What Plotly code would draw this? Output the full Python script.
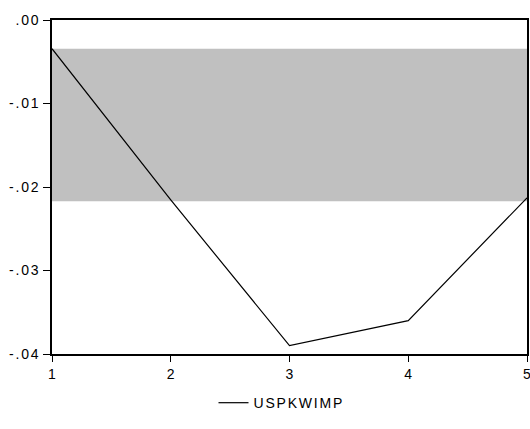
import plotly.graph_objects as go

periods = [1, 2, 3, 4, 5]
uspkwimp = [-0.00344, -0.02155, -0.0390, -0.0360, -0.0213]
band_upper = -0.00344
band_lower = -0.0217
y_ticks = [0.0, -0.01, -0.02, -0.03, -0.04]
y_tick_labels = [".00", "-.01", "-.02", "-.03", "-.04"]
x_ticks = [1, 2, 3, 4, 5]

fig = go.Figure()
fig.add_trace(go.Scatter(x=periods, y=uspkwimp, mode="lines", name="USPKWIMP",
                         line=dict(color="black", width=1.2)))

fig.add_shape(type="rect", xref="paper", yref="y", x0=0, x1=1,
              y0=band_lower, y1=band_upper, fillcolor="#C0C0C0",
              line=dict(width=0), layer="below")

font = dict(family="Liberation Sans, Arial, sans-serif", size=14, color="black")

fig.update_layout(
    width=530, height=429,
    margin=dict(l=52, r=3, t=20, b=75, autoexpand=False),
    plot_bgcolor="white", paper_bgcolor="white",
    font=font,
    showlegend=True,
    legend=dict(orientation="h", x=0.34, xanchor="left", y=-0.147, yanchor="middle",
                font=font, bgcolor="rgba(0,0,0,0)"),
    xaxis=dict(range=[1, 5], tickvals=x_ticks, ticktext=[str(v) for v in x_ticks],
               automargin=False, tickfont=font, ticklabeloverflow="allow",
               showgrid=False, zeroline=False, showline=True, linecolor="black",
               linewidth=1.5, mirror=True, ticks="outside", ticklen=6,
               tickcolor="black", tickwidth=1),
    yaxis=dict(range=[-0.04, 0.0], tickvals=y_ticks, ticktext=y_tick_labels,
               automargin=False, tickfont=font, ticklabeloverflow="allow",
               showgrid=False, zeroline=False, showline=True, linecolor="black",
               linewidth=1.5, mirror=True, ticks="outside", ticklen=7,
               tickcolor="black", tickwidth=1),
)

post = (
    "document.body.style.margin='0';document.body.style.overflow='hidden';"
    "document.querySelectorAll('.ytick text, .legendtext').forEach(function(t){"
    "t.style.letterSpacing='1.8px';});"
    "document.querySelectorAll('.legend .scrollbox, .legend').forEach(function(s){"
    "s.removeAttribute('clip-path');});"
)

fig.write_html("out.html", post_script=post, config={"displayModeBar": False})
